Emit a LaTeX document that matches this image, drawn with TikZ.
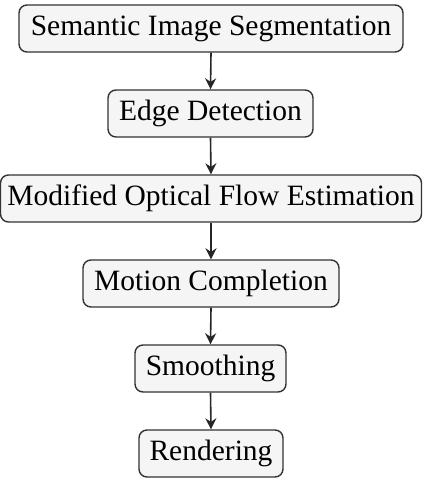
\documentclass[tikz,border=0pt]{standalone}
\usepackage{fontspec}
\setmainfont{Liberation Serif}
\usetikzlibrary{arrows.meta}
\begin{document}
\begin{tikzpicture}[x=1pt,y=-1pt,
  stage/.style={draw=black!80, line width=1.4pt, fill=black!4, rounded corners=8pt,
    minimum height=47pt, inner xsep=0pt, inner ysep=0pt, font=\fontsize{29.5}{32}\selectfont},
  flow/.style={draw=black!85, line width=1.6pt, -{Stealth[length=11pt,width=11pt]}}]
\useasboundingbox (0,0) rectangle (424,484);
\node[stage, minimum width=384pt] (a) at (211,28.5) {Semantic Image Segmentation};
\node[stage, minimum width=205pt] (b) at (210.5,113.5) {Edge Detection};
\node[stage, minimum width=421pt] (c) at (211,198.5) {Modified Optical Flow Estimation};
\node[stage, minimum width=256pt] (d) at (211,283.5) {Motion Completion};
\node[stage, minimum width=151pt] (e) at (210.5,368.5) {Smoothing};
\node[stage, minimum width=144pt] (f) at (211,453.5) {Rendering};
\draw[flow] (a.south) -- (b.north);
\draw[flow] (b.south) -- (c.north);
\draw[flow] (c.south) -- (d.north);
\draw[flow] (d.south) -- (e.north);
\draw[flow] (e.south) -- (f.north);
\end{tikzpicture}
\end{document}
